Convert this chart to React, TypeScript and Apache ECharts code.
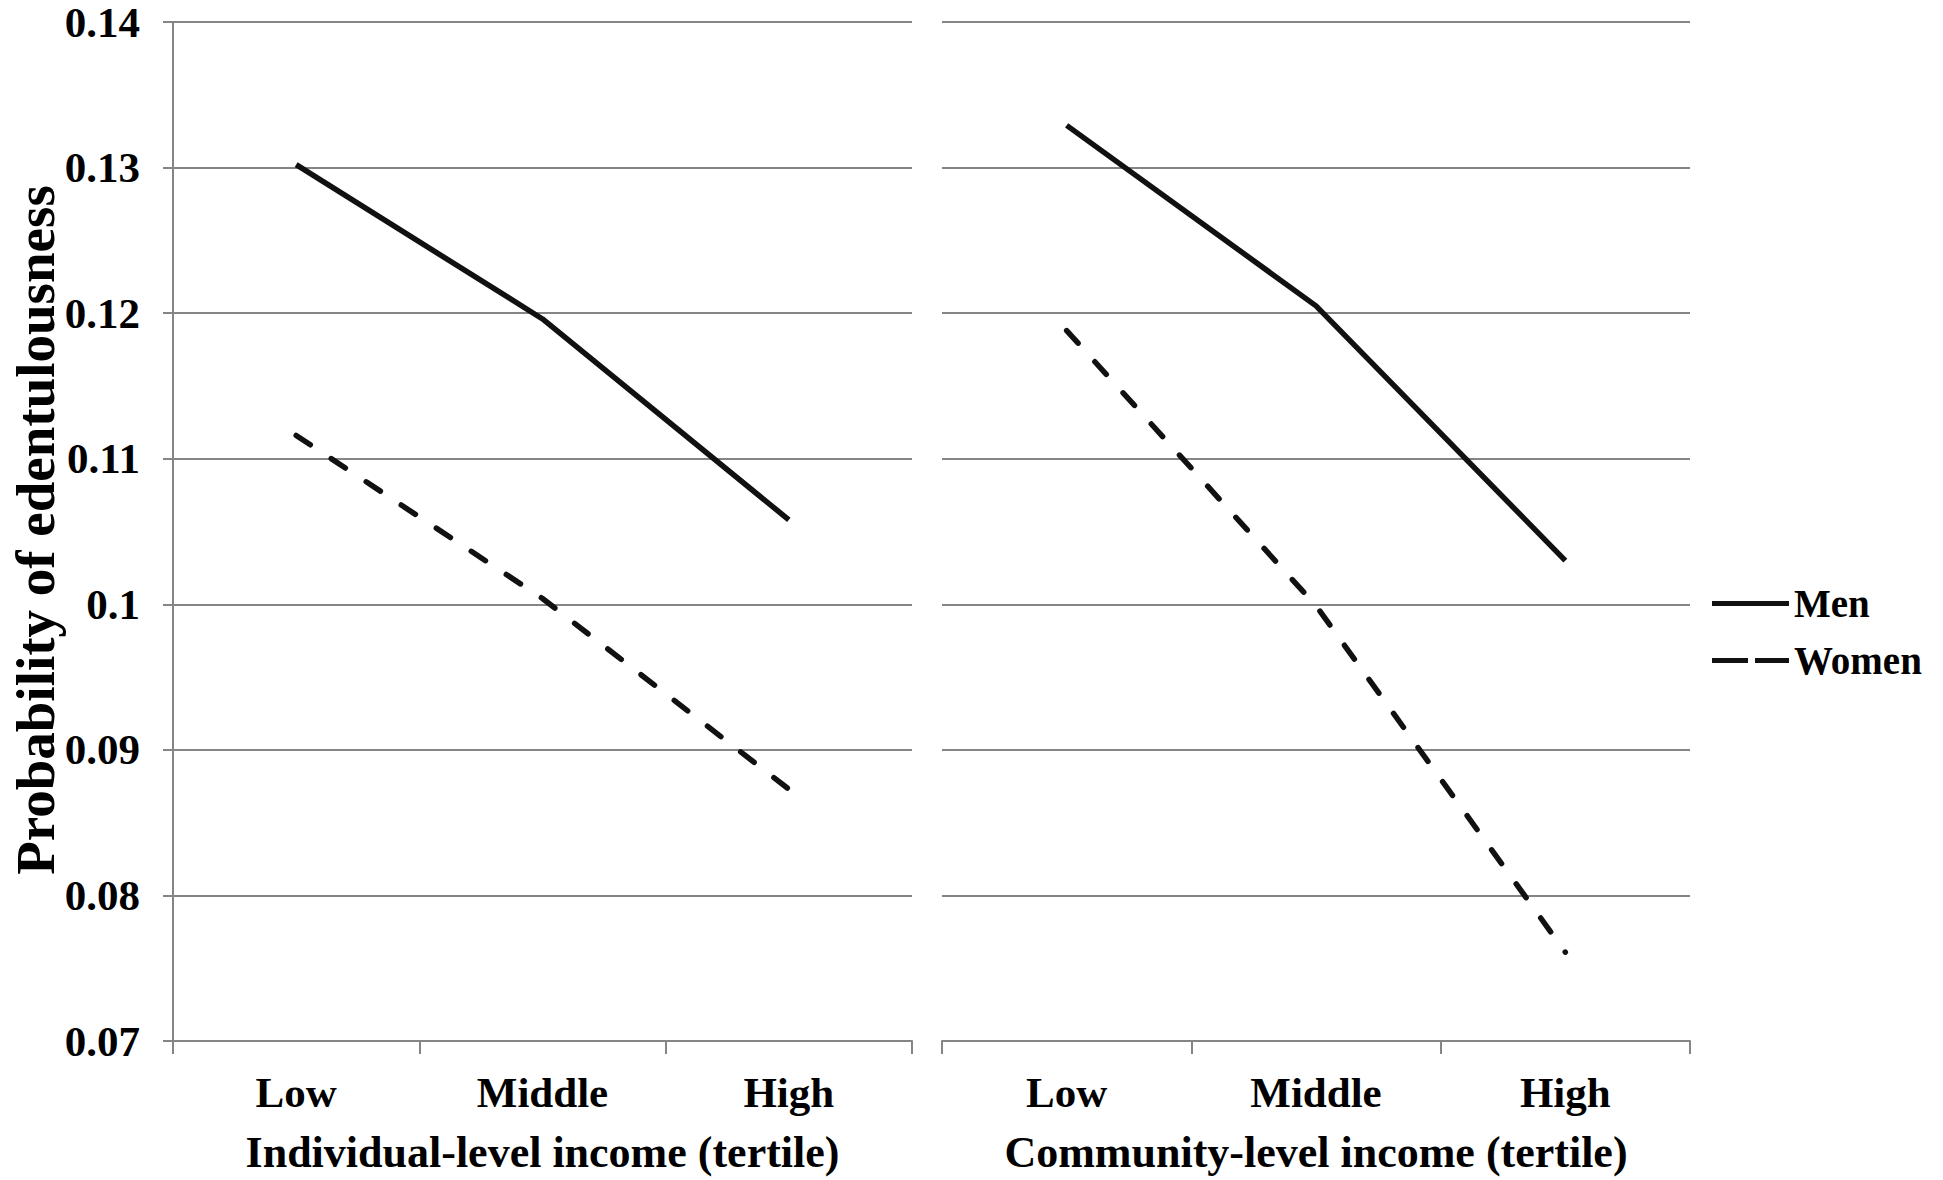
import React, { useEffect, useRef } from "react";
import * as echarts from "echarts";

const categories = ["Low", "Middle", "High"];
const menIndividual = [0.1302, 0.1196, 0.1058];
const womenIndividual = [0.1116, 0.1004, 0.0873];
const menCommunity = [0.1329, 0.1205, 0.103];
const womenCommunity = [0.1188, 0.0999, 0.0761];
const xNames = ["Individual-level income (tertile)", "Community-level income (tertile)"];
const yTitle = "Probability of edentulousness";
const seriesNames = ["Men", "Women"];

const FONT = "'Liberation Serif', 'Times New Roman', serif";
const GRID_COLOR = "#858585";
const LINE_COLOR = "#111111";

export default function App() {
  const ref = useRef<HTMLDivElement>(null);

  useEffect(() => {
    if (!ref.current) return;
    const chart = echarts.init(ref.current, null, { renderer: "svg" });

    const xAxisBase = (gridIndex: number, name: string) => ({
      type: "category",
      gridIndex,
      data: categories,
      boundaryGap: true,
      name,
      nameLocation: "middle",
      nameGap: 89,
      nameTextStyle: { fontFamily: FONT, fontWeight: "bold", fontSize: 44, color: "#000" },
      axisLine: { show: true, lineStyle: { color: GRID_COLOR, width: 2 } },
      axisTick: { show: true, length: 13, alignWithLabel: false, lineStyle: { color: GRID_COLOR, width: 2 } },
      axisLabel: { margin: 30, fontFamily: FONT, fontWeight: "bold", fontSize: 43, color: "#000" },
      splitLine: { show: false },
    });

    const yAxisBase = (gridIndex: number, showAxis: boolean) => ({
      type: "value",
      gridIndex,
      min: 0.07,
      max: 0.14,
      interval: 0.01,
      axisLine: { show: showAxis, lineStyle: { color: GRID_COLOR, width: 2 } },
      axisTick: { show: showAxis, length: 10, lineStyle: { color: GRID_COLOR, width: 2 } },
      axisLabel: {
        show: showAxis,
        margin: 33,
        fontFamily: FONT,
        fontWeight: "bold",
        fontSize: 43,
        color: "#000",
      },
      splitLine: { show: true, lineStyle: { color: GRID_COLOR, width: 2 } },
    });

    const solid = { color: LINE_COLOR, width: 5.5, type: "solid" };
    const dashed = { color: LINE_COLOR, width: 5.5, type: [17, 25], cap: "round" };

    chart.setOption({
      animation: false,
      backgroundColor: "#ffffff",
      grid: [
        { left: 173, top: 22, width: 739, height: 1019, containLabel: false },
        { left: 942, top: 22, width: 748, height: 1019, containLabel: false },
      ],
      xAxis: [xAxisBase(0, xNames[0]), xAxisBase(1, xNames[1])],
      yAxis: [yAxisBase(0, true), yAxisBase(1, false)],
      legend: {
        orient: "vertical",
        left: 1707,
        top: 579,
        itemWidth: 77,
        itemHeight: 5,
        itemGap: 18,
        selectedMode: false,
        textStyle: { fontFamily: FONT, fontWeight: "bold", fontSize: 39, color: "#000" },
        data: [
          { name: seriesNames[0], icon: "path://M0,0H77V5H0Z" },
          { name: seriesNames[1], icon: "path://M0,0H36V5H0Z M43,0H77V5H43Z" },
        ],
      },
      graphic: [
        {
          type: "text",
          x: 35,
          y: 530,
          rotation: Math.PI / 2,
          style: {
            text: yTitle,
            fontFamily: FONT,
            fontWeight: "bold",
            fontSize: 55,
            fill: "#000",
            textAlign: "center",
            textVerticalAlign: "middle",
          },
        },
      ],
      series: [
        {
          name: seriesNames[0],
          type: "line",
          xAxisIndex: 0,
          yAxisIndex: 0,
          data: menIndividual,
          symbol: "none",
          color: LINE_COLOR,
          lineStyle: solid,
        },
        {
          name: seriesNames[1],
          type: "line",
          xAxisIndex: 0,
          yAxisIndex: 0,
          data: womenIndividual,
          symbol: "none",
          color: LINE_COLOR,
          lineStyle: dashed,
        },
        {
          name: seriesNames[0],
          type: "line",
          xAxisIndex: 1,
          yAxisIndex: 1,
          data: menCommunity,
          symbol: "none",
          color: LINE_COLOR,
          lineStyle: solid,
        },
        {
          name: seriesNames[1],
          type: "line",
          xAxisIndex: 1,
          yAxisIndex: 1,
          data: womenCommunity,
          symbol: "none",
          color: LINE_COLOR,
          lineStyle: dashed,
        },
      ],
    });

    return () => chart.dispose();
  }, []);

  return (
    <div
      ref={ref}
      style={{ position: "absolute", left: 0, top: 0, width: 1943, height: 1180, background: "#fff" }}
    />
  );
}
